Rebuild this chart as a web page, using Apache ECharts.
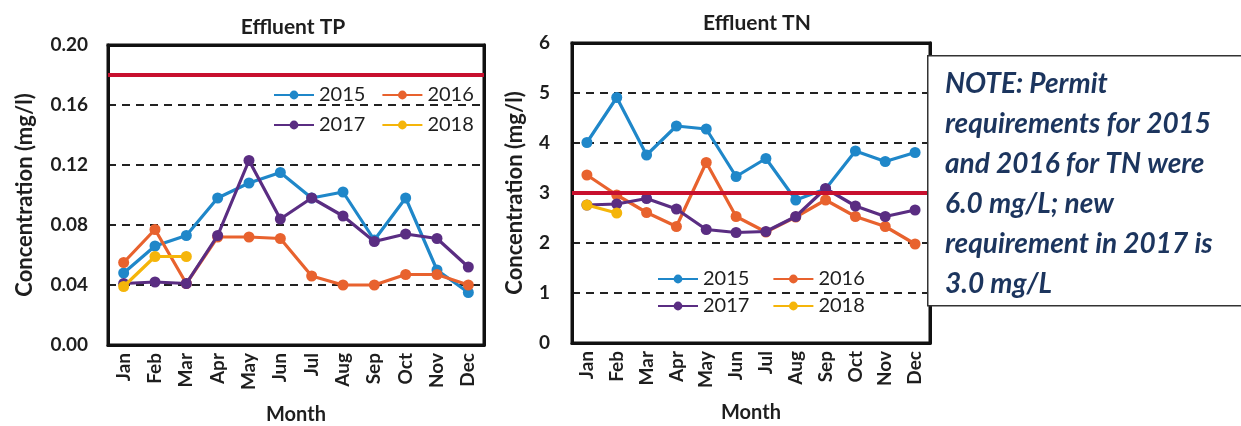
<!DOCTYPE html>
<html><head><meta charset="utf-8">
<script src="https://cdn.jsdelivr.net/npm/echarts@6/dist/echarts.min.js"></script>
<style>html,body{margin:0;padding:0;background:#fff}#c{width:1241px;height:426px}</style>
</head><body><div id="c"></div>
<script>
const months = ['Jan','Feb','Mar','Apr','May','Jun','Jul','Aug','Sep','Oct','Nov','Dec'];
const years = ['2015','2016','2017','2018'];
const tp2015 = [0.048, 0.066, 0.073, 0.098, 0.108, 0.115, 0.098, 0.102, 0.070, 0.098, 0.050, 0.035];
const tp2016 = [0.055, 0.077, 0.041, 0.072, 0.072, 0.071, 0.046, 0.040, 0.040, 0.047, 0.047, 0.040];
const tp2017 = [0.041, 0.042, 0.041, 0.073, 0.123, 0.084, 0.098, 0.086, 0.069, 0.074, 0.071, 0.052];
const tp2018 = [0.039, 0.059, 0.059];
const tn2015 = [4.01, 4.91, 3.76, 4.34, 4.28, 3.33, 3.69, 2.86, 3.08, 3.84, 3.63, 3.81];
const tn2016 = [3.36, 2.96, 2.61, 2.33, 3.61, 2.53, 2.22, 2.52, 2.86, 2.53, 2.33, 1.98];
const tn2017 = [2.76, 2.78, 2.89, 2.68, 2.27, 2.21, 2.23, 2.53, 3.09, 2.74, 2.53, 2.66];
const tn2018 = [2.76, 2.60];
const tpLimit = 0.18;
const tnLimit = 3.0;
const tpTicks = [0, 0.04, 0.08, 0.12, 0.16, 0.20];
const tnTicks = [0, 1, 2, 3, 4, 5, 6];
const noteLines = ['NOTE: Permit','requirements for 2015','and 2016 for TN were','6.0 mg/L; new','requirement in 2017 is','3.0 mg/L'];

const colors = {'2015':'#1f87c9','2016':'#e8622e','2017':'#5a2d82','2018':'#f5b50a'};
const FONT = 'Lato';
const TXT = '#1e1e1e';

const chart = echarts.init(document.getElementById('c'));

function mkSeries(name, data, gi, limit) {
  const s = {
    name, type:'line', data, xAxisIndex:gi, yAxisIndex:gi,
    color: colors[name], symbol:'circle', symbolSize:11,
    lineStyle:{width:3.2}, itemStyle:{color:colors[name]},
    z: 3 + years.indexOf(name) * 0.1
  };
  if (limit !== undefined) {
    s.markLine = {silent:true, symbol:'none', label:{show:false},
      lineStyle:{color:'#c8102e', width:4, type:'solid'},
      data:[{yAxis:limit}]};
  }
  return s;
}

const axisLabelY = {color:TXT, fontFamily:FONT, fontWeight:'bold', fontSize:19};
const frameLine = {show:true, onZero:false, lineStyle:{color:'#111', width:3}};
const yBase = {
  type:'value', min:0,
  axisLine:frameLine, axisTick:{show:false},
  splitLine:{show:true, lineStyle:{color:'#222', width:2, type:[8,6]}},
  nameLocation:'middle', nameMoveOverlap:false,
  nameTextStyle:{color:TXT, fontFamily:FONT, fontWeight:'bold', fontSize:22}
};
const xBase = {
  type:'category', data:months, boundaryGap:true,
  axisLine:frameLine, axisTick:{show:false},
  axisLabel:{rotate:90, color:TXT, fontFamily:FONT, fontWeight:'bold', fontSize:19, margin:8, interval:0},
  name:'Month', nameLocation:'middle', nameGap:60, nameMoveOverlap:false,
  nameTextStyle:{color:TXT, fontFamily:FONT, fontWeight:'bold', fontSize:20}
};
// frame-only axes (top and right edges of each plot box)
function topAxis(gi) {
  return {type:'category', data:months, gridIndex:gi, position:'top', boundaryGap:true,
    axisLine:frameLine, axisTick:{show:false}, axisLabel:{show:false}, splitLine:{show:false}};
}
function rightAxis(gi, max) {
  return {type:'value', gridIndex:gi, position:'right', min:0, max,
    axisLine:frameLine, axisTick:{show:false}, axisLabel:{show:false}, splitLine:{show:false}};
}

function legendRow(names, left, top, gap) {
  return {data:names, left, top, itemWidth:40, itemHeight:11, itemGap:gap, orient:'horizontal',
    textStyle:{color:TXT, fontFamily:FONT, fontSize:20}};
}

chart.setOption({
  animation:false,
  title:[
    {text:'Effluent TP', left:288, top:12, textAlign:'center',
      textStyle:{color:TXT, fontFamily:FONT, fontWeight:'bold', fontSize:21}},
    {text:'Effluent TN', left:752, top:8, textAlign:'center',
      textStyle:{color:TXT, fontFamily:FONT, fontWeight:'bold', fontSize:21}}
  ],
  legend:[
    legendRow(['2015','2016'], 268, 80, 16),
    legendRow(['2017','2018'], 268, 110, 16),
    legendRow(['2015','2016'], 652, 264, 23),
    legendRow(['2017','2018'], 652, 291, 23)
  ],
  grid:[
    {left:108, top:45, width:376, height:300, outerBoundsMode:'none', containLabel:false,
      show:true, borderColor:'#111', borderWidth:3, backgroundColor:'transparent'},
    {left:572, top:43, width:358, height:300, outerBoundsMode:'none', containLabel:false,
      show:true, borderColor:'#111', borderWidth:3, backgroundColor:'transparent'}
  ],
  xAxis:[Object.assign({}, xBase, {gridIndex:0}), Object.assign({}, xBase, {gridIndex:1}), topAxis(0), topAxis(1)],
  yAxis:[
    Object.assign({}, yBase, {gridIndex:0, max:tpTicks[tpTicks.length-1], interval:0.04,
      name:'Concentration (mg/l)', nameGap:72,
      axisLabel:Object.assign({}, axisLabelY, {margin:20, formatter:v=>v.toFixed(2)})}),
    Object.assign({}, yBase, {gridIndex:1, max:tnTicks[tnTicks.length-1], interval:1,
      name:'Concentration (mg/l)', nameGap:46,
      axisLabel:Object.assign({}, axisLabelY, {margin:22})}),
    rightAxis(0, tpTicks[tpTicks.length-1]), rightAxis(1, tnTicks[tnTicks.length-1])
  ],
  series:[
    mkSeries('2016', tp2016, 0),
    mkSeries('2015', tp2015, 0, tpLimit),
    mkSeries('2017', tp2017, 0),
    mkSeries('2018', tp2018, 0),
    mkSeries('2016', tn2016, 1),
    mkSeries('2015', tn2015, 1, tnLimit),
    mkSeries('2017', tn2017, 1),
    mkSeries('2018', tn2018, 1)
  ],
  graphic:[
    {type:'rect', left:927, top:55, z:100,
      shape:{width:330, height:250}, style:{fill:'#fff', stroke:'#333', lineWidth:1.5}},
    {type:'text', left:945, top:64, z:101,
      style:{text:noteLines.join('\n'), fill:'#1c355e', font:'italic bold 28px Lato', lineHeight:40}}
  ]
});
</script></body></html>
